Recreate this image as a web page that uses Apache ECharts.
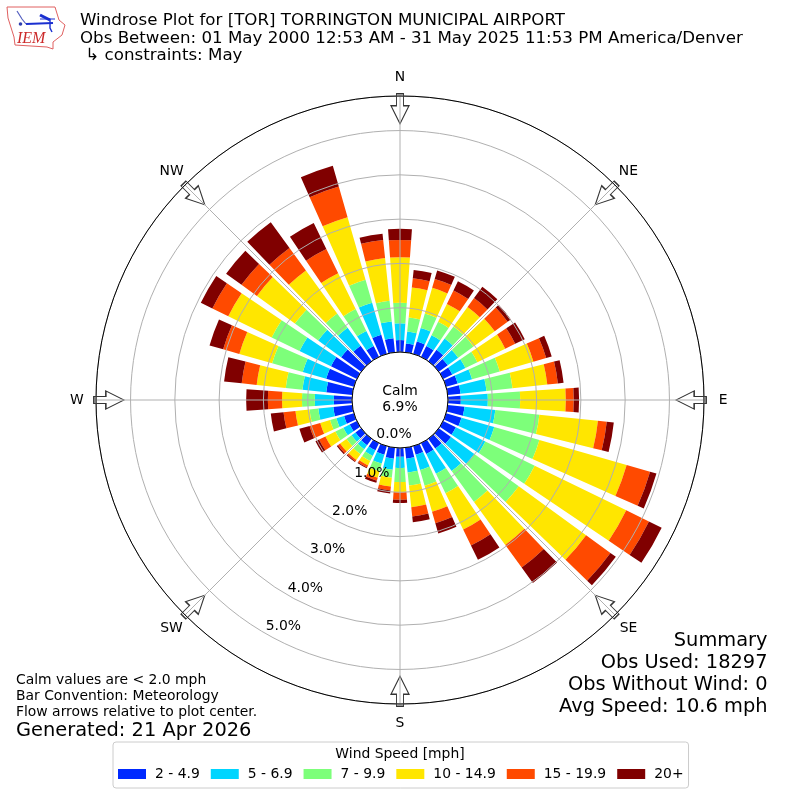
<!DOCTYPE html>
<html><head><meta charset="utf-8">
<style>html,body{margin:0;padding:0;background:#fff}#c{width:800px;height:800px}</style>
<script src="https://cdn.jsdelivr.net/npm/echarts@6/dist/echarts.min.js"></script>
</head><body><div id="c"></div>
<script>
const directions = ['0','10','20','30','40','50','60','70','80','90','100','110','120','130','140','150','160','170','180','190','200','210','220','230','240','250','260','270','280','290','300','310','320','330','340','350'];
const speed2to49 = [.27,.20,.29,.27,.32,.25,.23,.27,.29,.29,.38,.36,.32,.34,.27,.27,.20,.25,.20,.25,.20,.18,.18,.16,.18,.23,.43,.41,.59,.65,.65,.56,.43,.27,.45,.32];
const speed5to69 = [.38,.27,.32,.27,.31,.29,.33,.34,.59,.61,.70,.77,.74,.65,.63,.50,.36,.31,.25,.25,.21,.14,.11,.11,.16,.18,.34,.43,.54,.55,.79,.64,.50,.38,.75,.38];
const speed7to99 = [.46,.32,.34,.34,.34,.43,.30,.65,.59,.73,1.00,1.06,1.24,1.24,.86,.49,.37,.30,.32,.18,.18,.13,.14,.14,.20,.15,.20,.29,.38,.72,.70,.65,.40,.55,.54,.47];
const speed10to149 = [1.03,.68,.60,.45,.54,.59,.70,.79,.79,1.03,1.33,2.05,2.30,1.88,1.20,.91,.61,.49,.23,.20,.15,.11,.16,.18,.25,.23,.32,.45,.66,.77,1.09,1.06,1.20,.90,1.47,.97];
const speed15to199 = [.39,.21,.21,.34,.25,.36,.25,.30,.24,.18,.20,.55,.57,.68,.63,.40,.27,.21,.17,.09,.07,.05,.04,.06,.16,.25,.27,.32,.34,.38,.40,.43,.63,.61,.72,.41];
const speed20plus = [.25,.19,.20,.23,.32,.09,.24,.13,.13,.12,.16,.15,.32,.15,.43,.36,.24,.13,.07,.07,.05,.02,.02,.03,.09,.24,.29,.49,.40,.32,.29,.43,.72,.65,.49,.14];
const binNames = ['2 - 4.9','5 - 6.9','7 - 9.9','10 - 14.9','15 - 19.9','20+'];
const binColors = ['#0029ff','#00d5ff','#7dff7a','#ffe600','#ff4a00','#800000'];
const binValues = [speed2to49,speed5to69,speed7to99,speed10to149,speed15to199,speed20plus];
const compassLabels = ['N','NE','E','SE','S','SW','W','NW'];
const compassAngles = [0,45,90,135,180,225,270,315];
const ringTicks = [0,1,2,3,4,5];
const radiusMax = 5.78;
const FONT = '"DejaVu Sans"';
const arrowPath = 'path://M5.5 0 L12.5 0 L12.5 12 L18 12 L9 30 L0 12 L5.5 12 Z';

const series = binNames.map((n,i)=>({
  name:n,type:'bar',coordinateSystem:'polar',polarIndex:0,stack:'wind',barWidth:'80%',
  data:binValues[i],itemStyle:{color:binColors[i]},z:1,silent:true,animation:false
}));
series.push({
  type:'scatter',coordinateSystem:'polar',polarIndex:1,z:1,silent:true,animation:false,clip:false,
  data:compassAngles.map(a=>({value:[5.49,a],symbolRotate:-a})),
  symbol:arrowPath,symbolSize:[18,30],symbolKeepAspect:false,
  itemStyle:{color:'#fff',borderColor:'#333',borderWidth:1.2,opacity:1}
});
series.push({
  type:'scatter',coordinateSystem:'polar',polarIndex:1,z:5,silent:true,animation:false,clip:false,
  data:compassAngles.map((a,i)=>({value:[6.21,a],name:compassLabels[i]})),
  symbolSize:0,itemStyle:{opacity:1},
  label:{show:true,position:'inside',formatter:p=>p.name,fontFamily:FONT,fontSize:13.9,color:'#000',align:'center',verticalAlign:'middle'}
});
series.push({
  type:'scatter',coordinateSystem:'polar',polarIndex:1,z:5,silent:true,animation:false,clip:false,
  data:ringTicks.map(t=>({value:[t,210],name:t.toFixed(1)+'%'})),
  symbolSize:0,itemStyle:{opacity:1},
  label:{show:true,position:'inside',offset:[18,-7],formatter:p=>p.name,fontFamily:FONT,fontSize:13.9,color:'#000',align:'center',verticalAlign:'middle'}
});

const txt=(x,y,t,size,align,extra)=>({type:'text',x,y,z:100,style:Object.assign({text:t,fontFamily:FONT,fontSize:size,fill:'#000',align:align||'left',verticalAlign:'middle'},extra||{})});
const graphic=[
  txt(80,21,'Windrose Plot for [TOR] TORRINGTON MUNICIPAL AIRPORT',16.67),
  txt(80,38.5,'Obs Between: 01 May 2000 12:53 AM - 31 May 2025 11:53 PM America/Denver',16.67),
  txt(80,56,' ↳ constraints: May',16.67),
  txt(400,391.5,'Calm',13.9,'center'),
  txt(400,407.5,'6.9%',13.9,'center'),
  txt(767.5,641,'Summary',19.4,'right'),
  txt(767.5,663,'Obs Used: 18297',19.4,'right'),
  txt(767.5,685,'Obs Without Wind: 0',19.4,'right'),
  txt(767.5,707,'Avg Speed: 10.6 mph',19.4,'right'),
  txt(16,680.5,'Calm values are < 2.0 mph',13.9),
  txt(16,696.5,'Bar Convention: Meteorology',13.9),
  txt(16,712.5,'Flow arrows relative to plot center.',13.9),
  txt(16,730.5,'Generated: 21 Apr 2026',19.4),
  txt(400,754,'Wind Speed [mph]',13.9,'center'),
  {type:'polygon',z:100,shape:{points:[[7,7],[55,7],[59,20],[65,25],[62,35],[53,42],[53,49],[47,47],[15,45],[14,37],[8,18]]},style:{fill:'#fff',stroke:'#e06060',lineWidth:1}},
  {type:'polyline',z:101,shape:{points:[[26,24],[53,23]]},style:{stroke:'#1a2fd0',lineWidth:2.2,fill:null}},
  {type:'polyline',z:101,shape:{points:[[40,15],[50,20]]},style:{stroke:'#1a2fd0',lineWidth:3,fill:null}},
  {type:'polyline',z:101,shape:{points:[[40,19],[55,19]]},style:{stroke:'#1a2fd0',lineWidth:1,fill:null}},
  {type:'polyline',z:101,shape:{points:[[50,19],[50,28],[52,32]]},style:{stroke:'#1a2fd0',lineWidth:1.4,fill:null}},
  {type:'polyline',z:101,shape:{points:[[17,11],[22,19],[26,24]]},style:{stroke:'#5560c0',lineWidth:1.2,fill:null}},
  {type:'circle',z:101,shape:{cx:20.5,cy:24,r:1.8},style:{fill:'#3040b0'}},
  txt(17,38.5,'IEM',16,'left',{fontFamily:'"Liberation Serif"',fontStyle:'italic',fill:'#cc2a2a'})
];

const chart=echarts.init(document.getElementById('c'),null,{renderer:'canvas'});
chart.setOption({
  animation:false,
  backgroundColor:'#fff',
  polar:[
    {center:[400,400],radius:[48,304]},
    {center:[400,400],radius:[48,304]}
  ],
  angleAxis:[
    {polarIndex:0,type:'category',data:directions,startAngle:95,clockwise:true,boundaryGap:true,
     axisLine:{show:false},axisTick:{show:false},axisLabel:{show:false},splitLine:{show:false}},
    {polarIndex:1,type:'value',min:0,max:360,interval:45,startAngle:90,clockwise:true,z:3,
     axisLine:{show:true,lineStyle:{color:'#000',width:1}},axisTick:{show:false},axisLabel:{show:false},
     splitLine:{show:true,lineStyle:{color:'#b0b0b0',width:1}},splitArea:{show:false}}
  ],
  radiusAxis:[
    {polarIndex:0,type:'value',min:0,max:radiusMax,axisLine:{show:false},axisTick:{show:false},axisLabel:{show:false},splitLine:{show:false}},
    {polarIndex:1,type:'value',min:0,max:radiusMax,interval:1,z:3,axisLine:{show:false},axisTick:{show:false},axisLabel:{show:false},
     splitLine:{show:true,lineStyle:{color:'#b0b0b0',width:1}}}
  ],
  legend:{
    data:binNames,left:113,top:742,orient:'horizontal',
    padding:[25,5,7,5],itemWidth:28,itemHeight:10,itemGap:11,icon:'rect',
    backgroundColor:'#fff',borderColor:'#ccc',borderWidth:1,borderRadius:3,selectedMode:false,
    textStyle:{fontFamily:FONT,fontSize:13.9,color:'#000',padding:[0,0,0,4]}
  },
  graphic:{elements:graphic},
  series
});
</script></body></html>
